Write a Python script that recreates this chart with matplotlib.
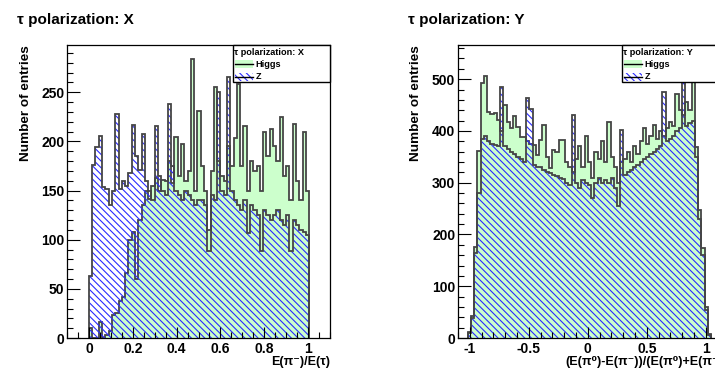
import numpy as np
import matplotlib
matplotlib.use("Agg")
import matplotlib.pyplot as plt
from matplotlib.patches import Rectangle
from matplotlib.ticker import MultipleLocator, FuncFormatter

plt.rcParams['font.family'] = ['Liberation Sans', 'DejaVu Sans']
plt.rcParams['font.weight'] = 'bold'
plt.rcParams['hatch.linewidth'] = 0.8

# ---- left plot: E(pi-)/E(tau), bins of 0.015 starting at 0
x_start, x_width = 0.0, 0.015
higgs_x = [10, 0, 0, 16, 0, 3, 7,
           23, 25, 38, 42, 66, 100, 108,
           60, 120, 135, 150, 141, 155, 163,
           150, 161, 160, 180, 158, 204, 165,
           197, 160, 170, 284, 150, 231,
           175, 150, 110, 170, 255, 180, 165,
           160, 195, 175, 203, 258, 175, 216,
           150, 180, 170, 175, 150, 210, 185,
           213, 195, 180, 225, 165, 175, 140,
           218, 160, 140, 210, 150]
z_x = [63, 176, 194, 205, 154, 152, 135,
       150, 228, 152, 160, 155, 168, 217,
       185, 171, 207, 160, 150, 140, 216,
       165, 150, 145, 238, 175, 150, 145,
       140, 150, 145, 140, 135, 140,
       140, 135, 88, 145, 140, 250, 150,
       145, 265, 150, 140, 135, 130, 140,
       107, 135, 130, 125, 88, 130, 125,
       120, 125, 130, 120, 115, 125, 88,
       120, 115, 110, 108, 105]

# ---- right plot: (E(pi0)-E(pi-))/(E(pi0)+E(pi-)), bins of 0.0275
y_start, y_width = -1.0175, 0.0275
higgs_y = [12, 42, 175, 361, 492, 506, 437, 433, 434, 421,
           400, 450, 418, 405, 428, 408, 389, 389, 380, 375,
           372, 353, 382, 411, 350, 328, 363, 360, 382, 382,
           340, 330, 320, 345, 370, 330, 390, 340, 310, 360,
           345, 380, 340, 418, 350, 330, 300, 340, 345, 360,
           340, 370, 355, 380, 405, 375, 390, 411, 385, 400,
           390, 405, 418, 410, 472, 440, 430, 456, 440, 497,
           369, 248, 173, 60, 8]
z_y = [10, 38, 165, 280, 385, 390, 380, 375, 372, 370,
       484, 370, 365, 360, 355, 350, 345, 340, 463, 443,
       335, 330, 330, 325, 320, 318, 315, 312, 310, 308,
       300, 295, 430, 300, 290, 305, 300, 295, 270, 300,
       310, 300, 305, 300, 310, 290, 255, 402, 315, 320,
       325, 330, 335, 340, 345, 350, 355, 360, 365, 370,
       476, 380, 385, 390, 400, 405, 495, 410, 415, 420,
       350, 230, 160, 55, 6]

GREEN = '#ccffcc'
BLUE = '#2b2bff'
LINE = '#454545'
HATCH = '\\' * 5


def draw_hist(ax, start, width, higgs, z):
    edges = start + width * np.arange(len(higgs) + 1)
    ax.stairs(higgs, edges, fill=True, facecolor=GREEN, linewidth=0)
    ax.stairs(higgs, edges, color=LINE, linewidth=1.3)
    ax.stairs(z, edges, fill=True, facecolor='none', edgecolor=BLUE,
              hatch=HATCH, linewidth=0)
    ax.stairs(z, edges, color=LINE, linewidth=1.3)


def draw_legend(ax, header):
    tr = ax.transAxes
    ax.add_patch(Rectangle((0.631, 0.874), 0.369, 0.126, transform=tr,
                           facecolor='white', edgecolor='black', lw=1.0,
                           zorder=5, clip_on=False))
    ax.text(0.636, 0.973, header, transform=tr, fontsize=6.6, va='center',
            zorder=6, clip_on=False)
    ax.add_patch(Rectangle((0.64, 0.922), 0.068, 0.027, transform=tr,
                           facecolor=GREEN, lw=0, zorder=6))
    ax.plot([0.64, 0.708], [0.935, 0.935], transform=tr, color='black',
            lw=1.0, zorder=7)
    ax.text(0.718, 0.935, 'Higgs', transform=tr, fontsize=6.6, va='center',
            zorder=6)
    ax.add_patch(Rectangle((0.64, 0.878), 0.068, 0.027, transform=tr,
                           facecolor='none', edgecolor=BLUE, hatch=HATCH,
                           lw=0, zorder=6))
    ax.plot([0.64, 0.708], [0.891, 0.891], transform=tr, color='black',
            lw=1.0, zorder=7)
    ax.text(0.718, 0.891, 'Z', transform=tr, fontsize=6.6, va='center',
            zorder=6)


def style_axes(ax, major_x, minor_x, major_y, minor_y):
    ax.xaxis.set_major_locator(MultipleLocator(major_x))
    ax.xaxis.set_minor_locator(MultipleLocator(minor_x))
    ax.yaxis.set_major_locator(MultipleLocator(major_y))
    ax.yaxis.set_minor_locator(MultipleLocator(minor_y))
    ax.xaxis.set_major_formatter(FuncFormatter(lambda v, p: '%g' % round(v, 3)))
    ax.yaxis.set_major_formatter(FuncFormatter(lambda v, p: '%g' % v))
    ax.tick_params(which='both', direction='in', top=False, right=False,
                   width=0.8, labelsize=10)
    ax.tick_params(axis='y', which='major', length=9, pad=2)
    ax.tick_params(axis='y', which='minor', length=4.5)
    ax.tick_params(axis='x', which='major', length=8, pad=3)
    ax.tick_params(axis='x', which='minor', length=4)
    for s in ax.spines.values():
        s.set_linewidth(0.9)


fig = plt.figure(figsize=(7.15, 3.7), dpi=100)

ax1 = fig.add_axes([67 / 715, 32 / 370, 263 / 715, 293 / 370])
draw_hist(ax1, x_start, x_width, higgs_x, z_x)
ax1.set_xlim(-0.1, 1.1)
ax1.set_ylim(0, 298)
style_axes(ax1, 0.2, 0.05, 50, 10)
draw_legend(ax1, 'τ polarization: X')

ax2 = fig.add_axes([458 / 715, 32 / 370, 259.6 / 715, 293 / 370])
draw_hist(ax2, y_start, y_width, higgs_y, z_y)
ax2.set_xlim(-1.1, 1.1)
ax2.set_ylim(0, 566)
style_axes(ax2, 0.5, 0.1, 100, 20)
draw_legend(ax2, 'τ polarization: Y')

fig.text(17 / 715, 1 - 20 / 370, 'τ polarization: X', fontsize=11, va='center')
fig.text(408 / 715, 1 - 20 / 370, 'τ polarization: Y', fontsize=11, va='center')

fig.text(26 / 715, 1 - 45 / 370, 'Number of entries', fontsize=9.7,
         rotation=90, ha='center', va='top')
fig.text(416 / 715, 1 - 45 / 370, 'Number of entries', fontsize=9.7,
         rotation=90, ha='center', va='top')

fig.text(330 / 715, 1 - 362 / 370, 'E(π⁻)/E(τ)', fontsize=9,
         ha='right', va='center')
# the reference clips this title at the right border of the picture
fig.text(565 / 715, 1 - 362 / 370, '(E(π⁰)-E(π⁻))/(E(π⁰)+E(π⁻))', fontsize=9,
         ha='left', va='center')

fig.savefig('out.png', dpi=100)
